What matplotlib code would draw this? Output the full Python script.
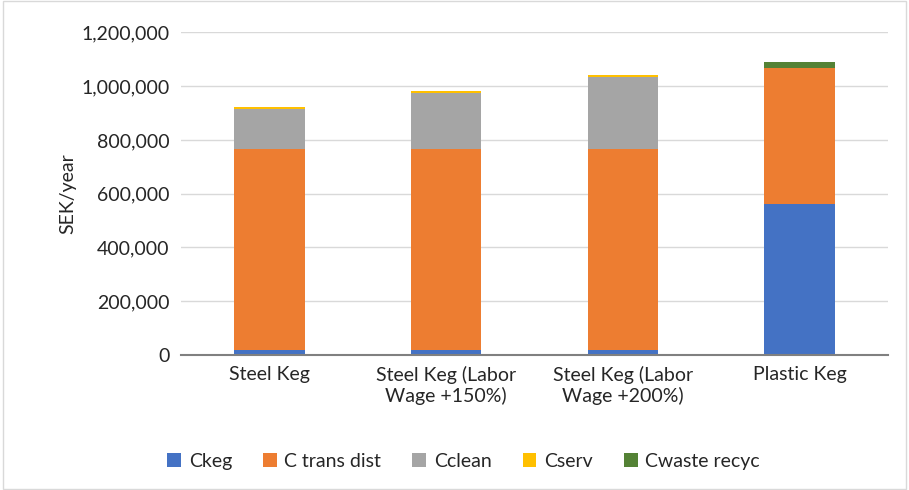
import matplotlib.pyplot as plt
import numpy as np

plt.rcParams['font.family'] = ['Lato', 'DejaVu Sans']

# categories and stacked series (SEK/year)
categories = ['Steel Keg', 'Steel Keg (Labor\nWage +150%)', 'Steel Keg (Labor\nWage +200%)', 'Plastic Keg']
ckeg = [19000, 19000, 19000, 562000]
c_trans_dist = [746000, 746000, 746000, 505000]
cclean = [149000, 210000, 270000, 0]
cserv = [7000, 6000, 6000, 1000]
cwaste_recyc = [0, 0, 0, 20000]

series = [ckeg, c_trans_dist, cclean, cserv, cwaste_recyc]
names = ['Ckeg', 'C trans dist', 'Cclean', 'Cserv', 'Cwaste recyc']
colors = ['#4472C4', '#ED7D31', '#A5A5A5', '#FFC000', '#548235']

fig = plt.figure(figsize=(9.09, 4.90), dpi=100)
ax = fig.add_axes([0.199, 0.2755, 0.778, 0.6585])

x = np.arange(len(categories))
bottom = np.zeros(len(categories))
for vals, name, col in zip(series, names, colors):
    ax.bar(x, vals, 0.4, bottom=bottom, color=col, label=name, zorder=3)
    bottom += np.array(vals)

ax.set_xlim(-0.5, len(categories) - 0.5)
ax.set_ylim(0, 1200000)
ax.set_yticks(np.arange(0, 1200001, 200000))
ax.yaxis.set_major_formatter(plt.FuncFormatter(lambda v, p: f'{int(v):,}'))
ax.set_xticks(x)
ax.set_xticklabels(categories, fontsize=14, color='#262626')
ax.tick_params(axis='y', labelsize=14, colors='#262626', length=0, pad=8)
ax.tick_params(axis='x', length=0, pad=8)
ax.grid(axis='y', color='#D9D9D9', linewidth=1, zorder=0)
for s in ['top', 'right', 'left']:
    ax.spines[s].set_visible(False)
ax.spines['bottom'].set_color('#808080')
ax.spines['bottom'].set_linewidth(1.5)
ax.spines['bottom'].set_zorder(4)

ax.set_ylabel('SEK/year', fontsize=14, color='#262626', labelpad=4)

fig.legend(loc='center', bbox_to_anchor=(0.51, 0.058), ncol=5, frameon=False,
           fontsize=14, handlelength=0.7, handleheight=0.7, columnspacing=1.6,
           handletextpad=0.4, labelcolor='#262626')

# thin frame around the whole chart
fig.patches.append(plt.Rectangle((0.003, 0.003), 0.994, 0.994, transform=fig.transFigure,
                                 fill=False, edgecolor='#D9D9D9', linewidth=1))

fig.savefig('out.png', dpi=100)
